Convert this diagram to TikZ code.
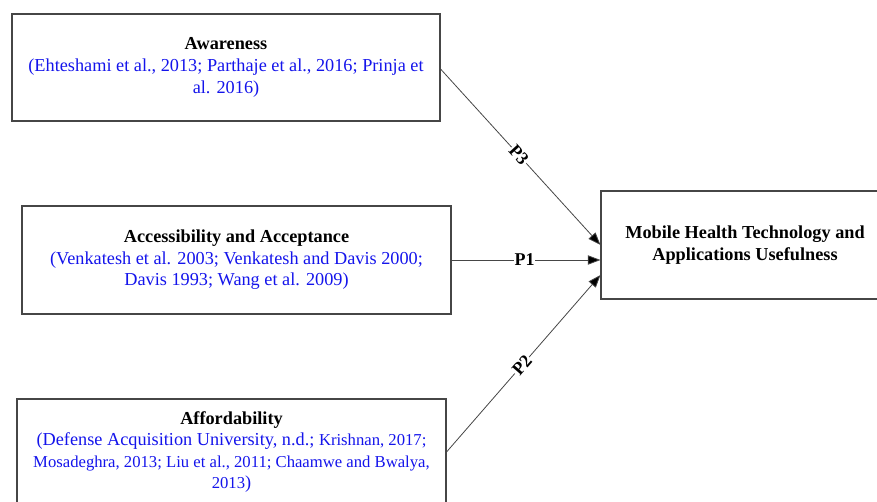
\documentclass[tikz,border=0pt]{standalone}
\usepackage{fontspec}
\setmainfont{Liberation Serif}
\usetikzlibrary{arrows.meta}
\definecolor{refblue}{RGB}{20,20,235}
\definecolor{edge}{RGB}{70,70,70}
\newcommand{\smallcite}{\fontsize{12.5}{16.2}\selectfont}
\begin{document}
\begin{tikzpicture}[x=0.75pt,y=-0.75pt,
  box/.style={draw=edge,line width=0.8pt,rectangle,align=center,inner sep=0pt,
    font=\fontsize{13.7}{16.2}\selectfont},
  link/.style={draw=edge,line width=0.6pt,
    -{Triangle[length=9.5pt,width=7pt,fill=black]}},
  plabel/.style={fill=white,inner sep=0.6pt,font=\fontsize{13.5}{15}\selectfont\bfseries,sloped,pos=0.49}]
\useasboundingbox (0,0) rectangle (877,502);
% predictor boxes
\node[box,minimum width=321pt,minimum height=80.25pt] (aw) at (226,67.5)
  {\textbf{Awareness}\\
   \textcolor{refblue}{(Ehteshami et al., 2013; Parthaje et al., 2016; Prinja et}\\
   \textcolor{refblue}{al. 2016)}};
\node[box,minimum width=321.75pt,minimum height=81pt] (ac) at (236.5,260)
  {\textbf{Accessibility and Acceptance}\\
   \textcolor{refblue}{(Venkatesh et al. 2003; Venkatesh and Davis 2000;}\\
   \textcolor{refblue}{Davis 1993; Wang et al. 2009)}};
\node[box,minimum width=321.75pt,minimum height=79.5pt] (af) at (231.5,452)
  {\textbf{Affordability}\\
   \textcolor{refblue}{(Defense Acquisition University, n.d.; {\smallcite Krishnan, 2017;}}\\
   \textcolor{refblue}{\smallcite Mosadeghra, 2013; Liu et al., 2011; Chaamwe and Bwalya,}\\
   \textcolor{refblue}{{\smallcite 2013})}};
% outcome box
\node[box,minimum width=216pt,minimum height=81pt] (mh) at (745,245)
  {\textbf{Mobile Health Technology and}\\
   \textbf{Applications Usefulness}};
% hypothesised paths
\coordinate (in3) at (mh.west);
\coordinate (in1) at ([yshift=-11.25pt]mh.west);
\coordinate (in2) at ([yshift=-22.5pt]mh.west);
\draw[link] ([yshift=-1.1pt]aw.east) -- node[plabel]{P3} (in3);
\draw[link] (ac.east) -- node[plabel]{P1} (in1);
\draw[link] (af.east) -- node[plabel]{P2} (in2);
\end{tikzpicture}
\end{document}
